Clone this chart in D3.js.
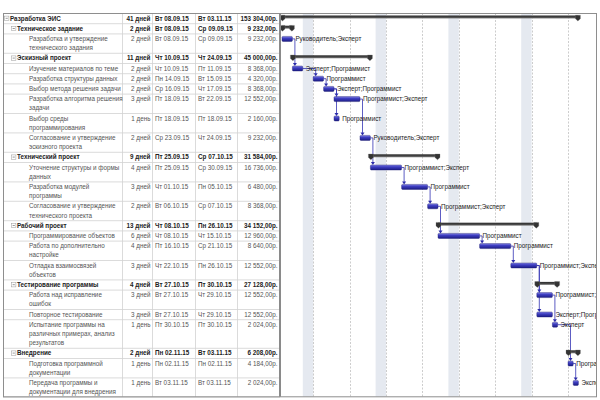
<!DOCTYPE html>
<html><head><meta charset="utf-8">
<script src="https://cdn.jsdelivr.net/npm/d3@7"></script>
<style>body{margin:0;background:#fff}svg{display:block}</style>
</head><body>
<svg id="c" width="600" height="400"></svg>
<script>
const names = ["Разработка ЭИС","Техническое задание","Разработка и утверждение технического задания","Эскизный проект","Изучение материалов по теме","Разработка структуры данных","Выбор метода решения задачи","Разработка алгоритма решения задачи","Выбор среды программирования","Согласование и утверждение эскизного проекта","Технический проект","Уточнение структуры и формы данных","Разработка модулей программы","Согласование и утверждение технического проекта","Рабочий проект","Программирование объектов","Работа по дополнительно настройке","Отладка взаимосвязей объектов","Тестирование программы","Работа над исправление ошибок","Повторное тестирование","Испытание программы на различных примерах, анализ результатов","Внедрение","Подготовка программной документации","Передача программы и документации для внедрения"];
const levels = [0,1,2,1,2,2,2,2,2,2,1,2,2,2,1,2,2,2,1,2,2,2,1,2,2];
const durations = ["41 дней","2 дней","2 дней","11 дней","2 дней","2 дней","2 дней","3 дней","1 день","2 дней","9 дней","4 дней","3 дней","2 дней","13 дней","6 дней","4 дней","3 дней","4 дней","3 дней","3 дней","1 день","2 дней","1 день","1 день"];
const starts = ["Вт 08.09.15","Вт 08.09.15","Вт 08.09.15","Чт 10.09.15","Чт 10.09.15","Пн 14.09.15","Ср 16.09.15","Пт 18.09.15","Пт 18.09.15","Ср 23.09.15","Пт 25.09.15","Пт 25.09.15","Чт 01.10.15","Вт 06.10.15","Чт 08.10.15","Чт 08.10.15","Пт 16.10.15","Чт 22.10.15","Вт 27.10.15","Вт 27.10.15","Вт 27.10.15","Пт 30.10.15","Пн 02.11.15","Пн 02.11.15","Вт 03.11.15"];
const finishes = ["Вт 03.11.15","Ср 09.09.15","Ср 09.09.15","Чт 24.09.15","Пт 11.09.15","Вт 15.09.15","Чт 17.09.15","Вт 22.09.15","Пт 18.09.15","Чт 24.09.15","Ср 07.10.15","Ср 30.09.15","Пн 05.10.15","Ср 07.10.15","Пн 26.10.15","Чт 15.10.15","Ср 21.10.15","Пн 26.10.15","Пт 30.10.15","Чт 29.10.15","Чт 29.10.15","Пт 30.10.15","Вт 03.11.15","Пн 02.11.15","Вт 03.11.15"];
const costs = ["153 304,00р.","9 232,00р.","9 232,00р.","45 000,00р.","8 368,00р.","4 320,00р.","8 368,00р.","12 552,00р.","2 160,00р.","9 232,00р.","31 584,00р.","16 736,00р.","6 480,00р.","8 368,00р.","34 152,00р.","12 960,00р.","8 640,00р.","12 552,00р.","27 128,00р.","12 552,00р.","12 552,00р.","2 024,00р.","6 208,00р.","4 184,00р.","2 024,00р."];
const resources = ["","","Руководитель;Эксперт","","Эксперт;Программист","Программист","Эксперт;Программист","Программист;Эксперт","Программист","Руководитель;Эксперт","","Программист;Эксперт","Программист","Программист;Эксперт","","Программист","Программист","Программист;Эксперт","","Программист;Эксперт","Эксперт;Программист","Эксперт","","Программист","Эксперт"];
const links = [[2,4],[4,5],[5,6],[6,7],[6,8],[7,9],[9,11],[11,12],[12,13],[13,15],[15,16],[16,17],[17,19],[17,20],[19,21],[21,23],[23,24]];
const timeDomain = ["08.09.15","04.11.15"];

const svg = d3.select("#c");
const FONT = "'Liberation Sans', Arial, sans-serif";
const FS = 6.3;
const TOP = 13, L = 9.2, P = 1;
const left = 3, right = 597, split = 280;
const cols = [122.5, 152.5, 195.5, 237.5];

const parse = s => { const p = s.slice(-8).split("."); return new Date(Date.UTC(2000 + +p[2], +p[1]-1, +p[0])); };
const x = d3.scaleUtc().domain(timeDomain.map(parse)).range([282, 578.4]);

const meas = svg.append("text").attr("font-family", FONT).attr("font-size", FS);
function wrap(str, maxW, bold){
  meas.attr("font-weight", bold ? "bold" : "normal");
  const words = str.split(" "); const lines = []; let cur = "";
  for (const w of words){
    const t = cur ? cur + " " + w : w;
    meas.text(t);
    if (meas.node().getComputedTextLength() > maxW && cur){ lines.push(cur); cur = w; }
    else cur = t;
  }
  lines.push(cur); return lines;
}
const nameX = [10, 17, 29];
const rows = [];
let y = TOP;
names.forEach((n, i) => {
  const lines = wrap(n, FS * 15.03, levels[i] < 2);
  const h = lines.length * L + P;
  rows.push({i, lines, top: y, h, lvl: levels[i]});
  y += h;
});
meas.remove();

const defs = svg.append("defs");
defs.append("clipPath").attr("id","gclip").append("rect").attr("x", split+1).attr("y", TOP).attr("width", right - split - 1).attr("height", y - TOP);
const bg = defs.append("linearGradient").attr("id","barg").attr("x1",0).attr("y1",0).attr("x2",0).attr("y2",1);
[["0%","#8a8ae6"],["35%","#4040c4"],["100%","#1c1c86"]].forEach(s=>bg.append("stop").attr("offset",s[0]).attr("stop-color",s[1]));
const sg = defs.append("linearGradient").attr("id","sumg").attr("x1",0).attr("y1",0).attr("x2",0).attr("y2",1);
[["0%","#2a2a2a"],["60%","#4a4a4a"],["100%","#8a8a8a"]].forEach(s=>sg.append("stop").attr("offset",s[0]).attr("stop-color",s[1]));

const g = svg.append("g").attr("clip-path","url(#gclip)");
const dom = x.domain();
const sats = d3.utcSaturday.range(dom[0], dom[1]);
g.selectAll("rect.we").data(sats.filter((d,k)=>k%2===0)).join("rect")
  .attr("x", d => x(d)).attr("width", d => x(d3.utcDay.offset(d,2)) - x(d))
  .attr("y", TOP).attr("height", y - TOP).attr("fill", "#e5e9f0");
const mons = d3.utcMonday.range(dom[0], d3.utcDay.offset(dom[1],1));
g.selectAll("line.mon").data(mons).join("line")
  .attr("x1", d => Math.round(x(d))+0.5).attr("x2", d => Math.round(x(d))+0.5)
  .attr("y1", TOP).attr("y2", y).attr("stroke", "#b8b8b8").attr("stroke-width", 0.7)
  .attr("stroke-dasharray", "2,1.5");

const barMid = r => r.top + 5.5;
const lg = g.append("g");
links.forEach(([a,b]) => {
  const ra = rows[a], rb = rows[b];
  const xe = x(d3.utcDay.offset(parse(finishes[a]),1));
  const xs = x(parse(starts[b])) + 2.5;
  const xt = Math.max(xs, xe + 2.5);
  const yt = rb.top + 3;
  lg.append("path").attr("d", `M${xe},${barMid(ra)}H${xt}V${yt-2.5}`)
    .attr("fill","none").attr("stroke","#3434b4").attr("stroke-width",0.8);
  lg.append("path").attr("d", `M${xt-2},${yt-3}L${xt+2},${yt-3}L${xt},${yt}Z`).attr("fill","#2a2aa8");
});

rows.forEach(r => {
  const s = x(parse(starts[r.i])), e = x(d3.utcDay.offset(parse(finishes[r.i]),1));
  if (r.lvl < 2){
    const t = r.top + 2.5;
    g.append("rect").attr("x", s).attr("y", t).attr("width", e - s).attr("height", 3).attr("fill", "url(#sumg)");
    [s, e].forEach((cx, k) => {
      const a = k ? cx - 3 : cx - 2, b = k ? cx + 2 : cx + 3, m = k ? cx - 0.5 : cx + 0.5;
      g.append("path").attr("d", `M${a},${t-0.3}H${b}V${t+3.3}L${m},${t+5.5}L${a},${t+3.3}Z`).attr("fill","#333").attr("stroke","#777").attr("stroke-width",0.3);
    });
  } else {
    g.append("rect").attr("x", s).attr("y", r.top + 3).attr("width", e - s).attr("height", 5)
      .attr("rx", 1).attr("fill","url(#barg)").attr("stroke","#1a1a70").attr("stroke-width",0.4);
    g.append("text").attr("x", e + 3).attr("y", r.top + 5.5).attr("dy","0.35em")
      .attr("font-family", FONT).attr("font-size", FS).attr("fill","#1a1a1a").text(resources[r.i]);
  }
});

const tg = svg.append("g");
rows.forEach(r => {
  tg.append("line").attr("x1", left).attr("x2", split).attr("y1", r.top + r.h + 0.5).attr("y2", r.top + r.h + 0.5)
    .attr("stroke", "#d2d2d2").attr("stroke-width", 0.8);
});
cols.forEach(cx => tg.append("line").attr("x1", cx).attr("x2", cx).attr("y1", TOP).attr("y2", y).attr("stroke","#d2d2d2").attr("stroke-width",0.8));
rows.forEach(r => {
  const bold = r.lvl < 2 ? "bold" : "normal";
  const fill = r.lvl < 2 ? "#222" : "#555";
  const by = r.top + 5.3;
  if (r.lvl < 2){
    const bx = r.lvl === 0 ? 4.5 : 11.5;
    tg.append("rect").attr("x", bx).attr("y", by - 2.2).attr("width", 4.4).attr("height", 4.4).attr("fill","#fff").attr("stroke","#999").attr("stroke-width",0.5);
    tg.append("line").attr("x1", bx + 1.1).attr("x2", bx + 3.3).attr("y1", by).attr("y2", by).attr("stroke","#555").attr("stroke-width",0.6);
  }
  const nt = tg.append("text").attr("font-family", FONT).attr("font-size", FS).attr("font-weight", bold).attr("fill", fill);
  r.lines.forEach((ln, k) => nt.append("tspan").attr("x", nameX[r.lvl]).attr("y", by + k * L).attr("dy","0.35em").text(ln));
  const cell = (tx, anchor, txt) => tg.append("text").attr("x", tx).attr("y", by).attr("dy","0.35em")
    .attr("text-anchor", anchor).attr("font-family", FONT).attr("font-size", FS).attr("font-weight", bold).attr("fill", fill).text(txt);
  cell(150.5, "end", durations[r.i]);
  cell(155, "start", starts[r.i]);
  cell(198, "start", finishes[r.i]);
  cell(277.5, "end", costs[r.i]);
});

svg.append("rect").attr("x", left + 0.5).attr("y", TOP + 0.5).attr("width", right - left - 1).attr("height", y - TOP - 0.5)
  .attr("fill","none").attr("stroke","#8e8e8e").attr("stroke-width",1);
svg.append("line").attr("x1", split).attr("x2", split).attr("y1", TOP).attr("y2", y).attr("stroke","#8a8a8a").attr("stroke-width",2);
</script>
</body></html>
